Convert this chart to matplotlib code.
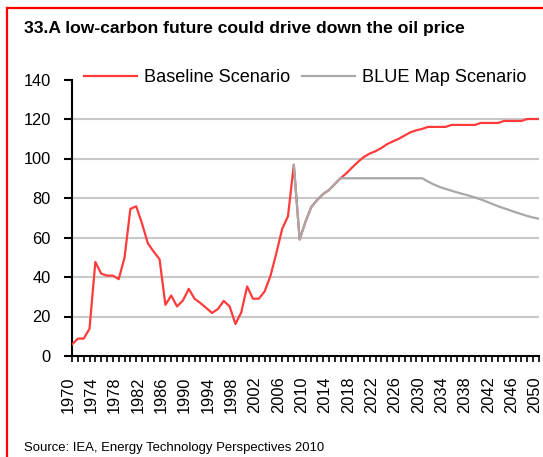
import matplotlib
matplotlib.use("Agg")
import matplotlib.pyplot as plt
from matplotlib.lines import Line2D
import matplotlib.transforms as mtransforms
import numpy as np

plt.rcParams['font.family'] = ['Liberation Sans', 'DejaVu Sans']

title = "33.A low-carbon future could drive down the oil price"
source = "Source: IEA, Energy Technology Perspectives 2010"

years_base = list(range(1970, 2051))
baseline = [
    5.8, 8.8, 8.8, 13.8, 47.6, 41.7, 40.7, 40.7, 38.9, 49.8,      # 1970-1979
    74.5, 75.8, 67.0, 57.0, 52.8, 49.0, 25.9, 30.6, 25.1, 28.1,   # 1980-1989
    34.0, 29.0, 26.8, 24.3, 21.8, 23.8, 27.9, 25.1, 16.2, 22.1,   # 1990-1999
    35.2, 29.0, 29.0, 32.7, 40.6, 52.0, 64.3, 70.8, 96.8, 59.0,   # 2000-2009
    68.0, 75.5, 79.0, 82.0, 84.0, 87.0, 90.0, 92.5, 95.5, 98.3,   # 2010-2019
    100.8, 102.5, 103.7, 105.3, 107.3, 108.7, 110.0, 111.7, 113.3, 114.3,  # 2020-2029
    115.0, 116.0, 116.0, 116.0, 116.0, 117.0, 117.0, 117.0, 117.0, 117.0,  # 2030-2039
    118.0, 118.0, 118.0, 118.0, 119.0, 119.0, 119.0, 119.0, 120.0, 120.0,  # 2040-2049
    120.0,                                                        # 2050
]

years_blue = list(range(2008, 2051))
blue_map = [
    96.8, 59.0,                                                   # 2008-2009
    68.0, 75.5, 79.0, 82.0, 84.0, 87.0, 90.0, 90.0, 90.0, 90.0,   # 2010-2019
    90.0, 90.0, 90.0, 90.0, 90.0, 90.0, 90.0, 90.0, 90.0, 90.0,   # 2020-2029
    90.0, 88.3, 86.8, 85.6, 84.6, 83.7, 82.8, 82.0, 81.2, 80.3,   # 2030-2039
    79.3, 78.2, 77.0, 75.8, 74.8, 73.8, 72.8, 71.8, 70.9, 70.1,   # 2040-2049
    69.5,                                                         # 2050
]

series_labels = ["Baseline Scenario", "BLUE Map Scenario"]
xtick_years = list(range(1970, 2051, 4))
yticks = [0, 20, 40, 60, 80, 100, 120, 140]
grid_levels = [20, 40, 60, 80, 100, 120]

W, H = 543, 457
fig = plt.figure(figsize=(W / 100, H / 100), dpi=100)
ax = fig.add_axes([72 / W, 1 - 356 / H, (539 - 72) / W, (356 - 79.5) / H])

for g in grid_levels:
    ax.axhline(g, color='#C8C8C8', lw=1.5, zorder=1)

ax.plot(years_base, baseline, color='#FF3B3B', lw=1.6, zorder=3,
        label=series_labels[0], solid_joinstyle='round')
ax.plot(years_blue, blue_map, color='#A8A8A8', lw=1.6, zorder=4,
        label=series_labels[1], solid_joinstyle='round')

ax.set_xlim(1970, 2050)
ax.set_ylim(0, 140)
ax.set_xticks(xtick_years)
ax.set_xticks(range(1970, 2051), minor=True)
ax.set_xticklabels([str(y) for y in xtick_years], rotation=90, fontsize=11.8)
ax.set_yticks(yticks)
ax.set_yticklabels([str(v) for v in yticks], fontsize=11.8)

for s in ['top', 'right']:
    ax.spines[s].set_visible(False)
for s in ['left', 'bottom']:
    ax.spines[s].set_linewidth(1.5)
    ax.spines[s].set_color('black')

ax.tick_params(axis='x', which='both', direction='out', length=4.5, width=1.2,
               pad=10, colors='black')
ax.tick_params(axis='y', which='major', direction='out', length=5.8, width=1.5,
               pad=9.5, colors='black')

shift = mtransforms.ScaledTranslation(-4.0 / 100, 0, fig.dpi_scale_trans)
for lab in ax.get_xticklabels():
    lab.set_transform(lab.get_transform() + shift)

leg = ax.legend(loc='center left', bbox_to_anchor=(84 / W, 1 - 77.7 / H),
                bbox_transform=fig.transFigure, ncol=2, frameon=False,
                fontsize=13.1, handlelength=2.94, handletextpad=0.36,
                columnspacing=0.64, borderaxespad=0, borderpad=0)

fig.text(24 / W, 1 - 28 / H, title, fontsize=12.6, fontweight='bold',
         va='center', ha='left')
fig.text(24 / W, 1 - 448 / H, source, fontsize=9.45, va='center', ha='left')

# red frame (left and top edges visible)
fig.add_artist(Line2D([7.3 / W, 7.3 / W], [0, 1 - 8 / H], color='#FF0000',
                      lw=1.6, transform=fig.transFigure))
fig.add_artist(Line2D([7.3 / W, 1], [1 - 8 / H, 1 - 8 / H], color='#FF0000',
                      lw=1.6, transform=fig.transFigure))

fig.savefig("out.png", dpi=100)
